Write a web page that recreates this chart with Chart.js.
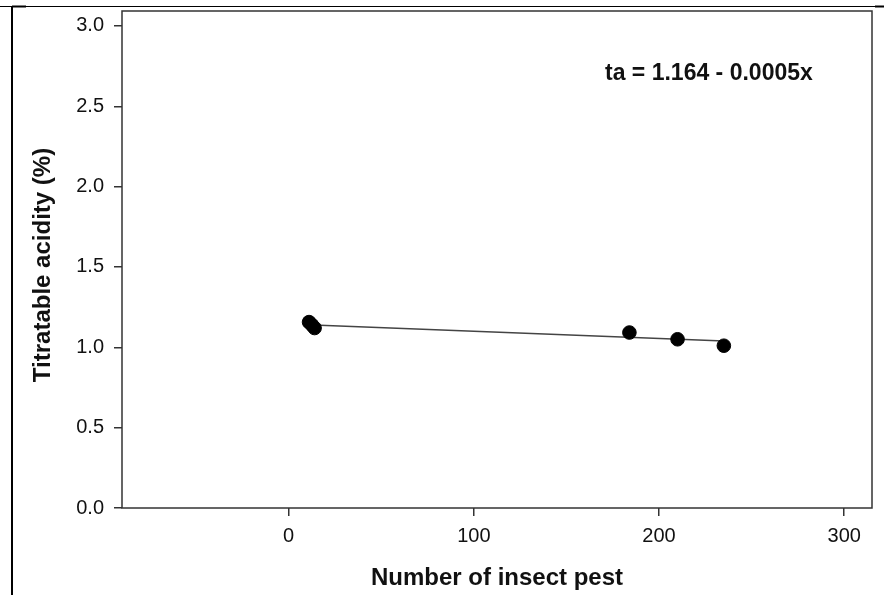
<!DOCTYPE html>
<html>
<head>
<meta charset="utf-8">
<script src="https://cdn.jsdelivr.net/npm/chart.js@4.4.1/dist/chart.umd.min.js"></script>
<style>
  html, body { margin: 0; padding: 0; background: #fff; }
  #wrap { width: 884px; height: 595px; }
</style>
</head>
<body>
<div id="wrap"><canvas id="c" width="884" height="595"></canvas></div>
<script>
// ---- data ----
const pestCounts = [11, 12.5, 14, 184, 210, 235];
const acidity = [1.157, 1.14, 1.12, 1.092, 1.05, 1.01];
const fitX = [10, 235];
const fitY = [1.140, 1.040];
const xTickValues = [0, 100, 200, 300];
const yTickValues = [0, 0.5, 1.0, 1.5, 2.0, 2.5, 3.0];
const xTitle = 'Number of insect pest';
const yTitle = 'Titratable acidity (%)';
const equationText = 'ta = 1.164 - 0.0005x';

const FONT = '"Liberation Sans", Arial, sans-serif';

const decor = {
  id: 'decor',
  afterDraw(chart) {
    const ctx = chart.ctx;
    const a = chart.chartArea;
    ctx.save();
    // outer frame lines
    ctx.strokeStyle = '#000';
    ctx.lineWidth = 1;
    ctx.beginPath(); ctx.moveTo(0, 6.5); ctx.lineTo(884, 6.5); ctx.stroke();
    ctx.lineWidth = 2;
    ctx.beginPath(); ctx.moveTo(12, 6); ctx.lineTo(12, 595); ctx.stroke();
    ctx.beginPath(); ctx.moveTo(12, 6.5); ctx.lineTo(26, 6.5); ctx.stroke();
    ctx.beginPath(); ctx.moveTo(875, 6.5); ctx.lineTo(884, 6.5); ctx.stroke();
    // plot border
    ctx.strokeStyle = '#333';
    ctx.lineWidth = 1.5;
    ctx.strokeRect(a.left, a.top, a.right - a.left, a.bottom - a.top);
    // equation
    ctx.fillStyle = '#111';
    ctx.font = 'bold 23px ' + FONT;
    ctx.textAlign = 'left';
    ctx.textBaseline = 'middle';
    ctx.fillText(equationText, 605, 74);
    // x title
    ctx.font = 'bold 24px ' + FONT;
    ctx.textAlign = 'center';
    ctx.fillText(xTitle, (a.left + a.right) / 2, 578);
    // y title
    ctx.translate(43, 265);
    ctx.rotate(-Math.PI / 2);
    ctx.fillText(yTitle, 0, 0);
    ctx.restore();
  }
};

new Chart(document.getElementById('c'), {
  type: 'scatter',
  data: {
    datasets: [
      {
        type: 'line',
        data: fitX.map((x, i) => ({ x: x, y: fitY[i] })),
        borderColor: '#444',
        borderWidth: 1.5,
        pointRadius: 0,
        fill: false,
        order: 2
      },
      {
        data: pestCounts.map((x, i) => ({ x: x, y: acidity[i] })),
        backgroundColor: '#000',
        borderColor: '#000',
        pointRadius: 6.8,
        pointHoverRadius: 6.8,
        order: 1
      }
    ]
  },
  plugins: [decor],
  options: {
    responsive: false,
    animation: false,
    events: [],
    layout: { padding: { top: 11, right: 12, left: 0, bottom: 0 } },
    plugins: { legend: { display: false }, tooltip: { enabled: false } },
    scales: {
      x: {
        type: 'linear',
        min: -90,
        max: 315,
        afterBuildTicks(s) { s.ticks = xTickValues.map(v => ({ value: v })); },
        afterFit(s) { s.height = 87; s.paddingLeft = 0; s.paddingRight = 0; },
        grid: { display: true, drawOnChartArea: false, drawTicks: true, tickLength: 8, color: '#333', lineWidth: 1.5 },
        border: { display: false },
        ticks: { color: '#111', font: { family: FONT, size: 20 }, padding: 8, maxRotation: 0 }
      },
      y: {
        type: 'linear',
        min: 0,
        max: 3.093,
        afterBuildTicks(s) { s.ticks = yTickValues.map(v => ({ value: v })); },
        afterFit(s) { s.width = 122; s.paddingTop = 0; s.paddingBottom = 0; },
        grid: { display: true, drawOnChartArea: false, drawTicks: true, tickLength: 8, color: '#333', lineWidth: 1.5 },
        border: { display: false },
        ticks: { color: '#111', font: { family: FONT, size: 20 }, padding: 10, callback: v => Number(v).toFixed(1) }
      }
    }
  }
});
</script>
</body>
</html>
